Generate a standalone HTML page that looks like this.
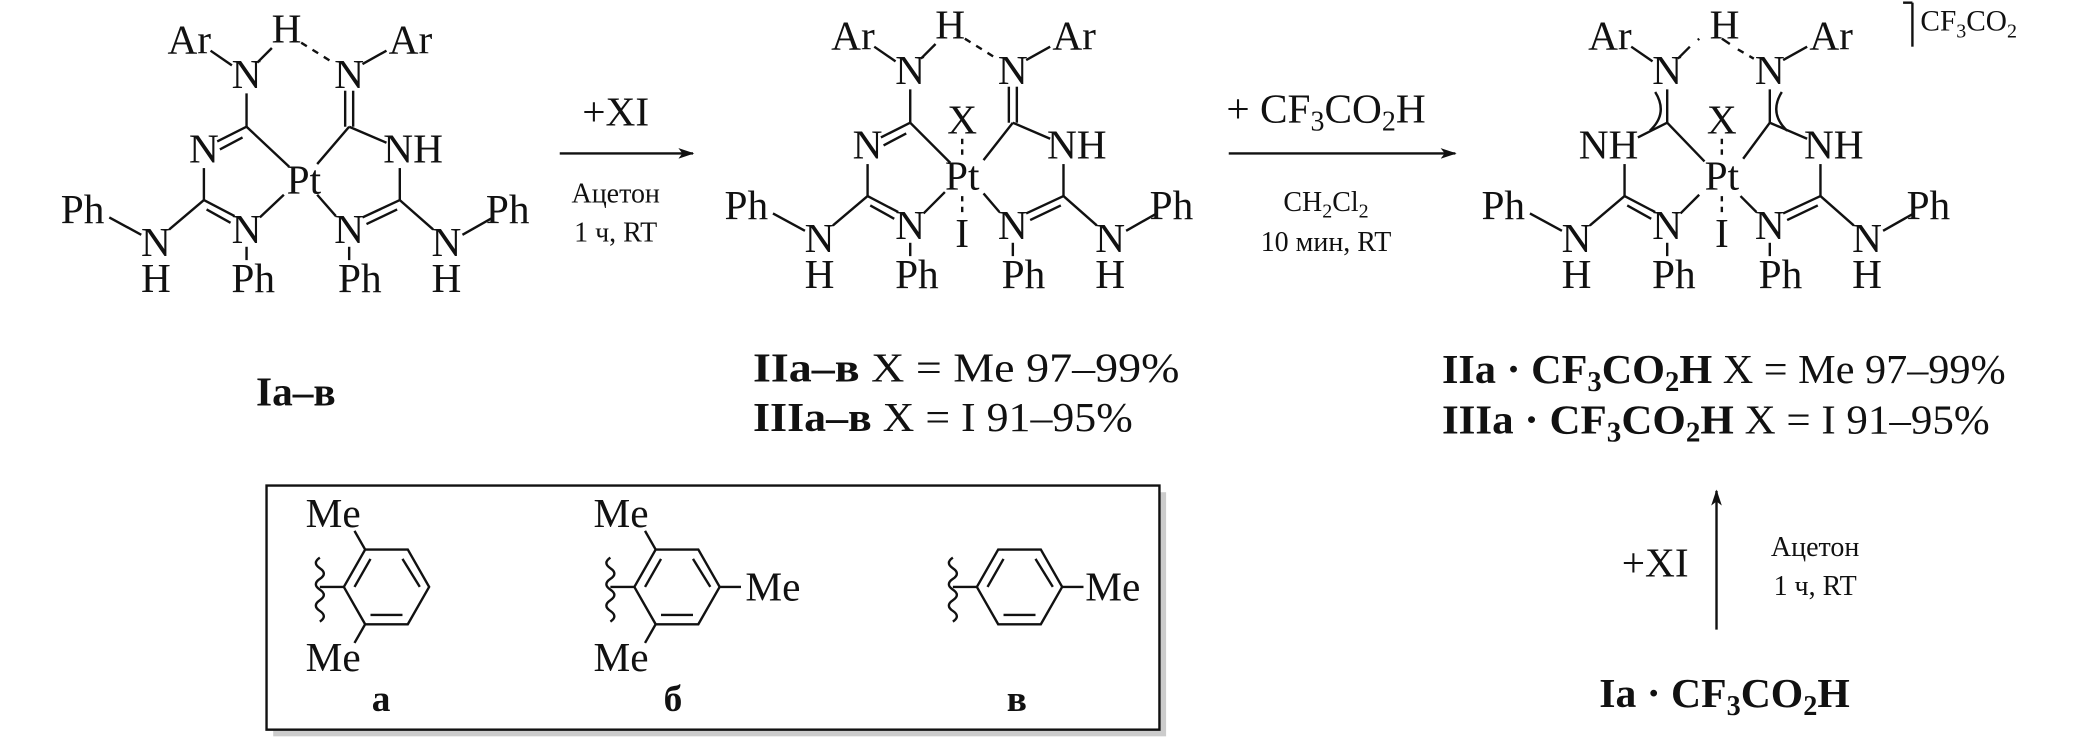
<!DOCTYPE html>
<html><head><meta charset="utf-8"><style>
html,body{margin:0;padding:0;background:#fff;}
svg{display:block;}
text{font-family:"Liberation Serif",serif;fill:#111;}
</style></head><body>
<svg width="2079" height="751" viewBox="0 0 1560 563" preserveAspectRatio="none" xmlns="http://www.w3.org/2000/svg">
<defs>
<marker id="ah" viewBox="0 0 12 8" refX="11" refY="4" markerWidth="12" markerHeight="8" markerUnits="userSpaceOnUse" orient="auto"><path d="M0,0 L12,4 L0,8 L3,4 Z" fill="#111"/></marker>
</defs>
<g stroke="#111" stroke-width="1.8" fill="none">
<!-- Structure 1 -->
<g id="s1">
<line x1="158" y1="38" x2="174" y2="49"/>
<line x1="193" y1="47" x2="204" y2="36"/>
<line x1="226" y1="32" x2="250" y2="47" stroke-dasharray="5,5"/>
<line x1="272" y1="48" x2="290" y2="38"/>
<line x1="185" y1="70" x2="185" y2="95"/>
<line x1="185" y1="95" x2="163" y2="106"/><line x1="182" y1="103" x2="165" y2="112"/>
<line x1="185" y1="95" x2="217" y2="125"/>
<line x1="153" y1="126" x2="153" y2="150"/>
<line x1="153" y1="150" x2="176" y2="162"/><line x1="155" y1="157" x2="173" y2="167"/>
<line x1="153" y1="150" x2="127" y2="172"/>
<line x1="82" y1="163" x2="106" y2="176"/>
<line x1="195" y1="163" x2="213" y2="146"/>
<line x1="185" y1="185" x2="185" y2="195"/>
</g>
<g id="s1r">
<line x1="259" y1="68" x2="259" y2="95"/><line x1="265" y1="68" x2="265" y2="95"/>
<line x1="262" y1="95" x2="238" y2="123"/>
<line x1="262" y1="95" x2="290" y2="107"/>
<line x1="300" y1="126" x2="300" y2="150"/>
<line x1="300" y1="150" x2="272" y2="163"/><line x1="298" y1="157" x2="275" y2="168"/>
<line x1="300" y1="150" x2="325" y2="172"/>
<line x1="347" y1="176" x2="370" y2="163"/>
<line x1="252" y1="162" x2="238" y2="146"/>
<line x1="262" y1="185" x2="262" y2="195"/>
</g>
<!-- Structure 2 -->
<g transform="translate(498,-3)">
<line x1="158" y1="38" x2="174" y2="49"/>
<line x1="193" y1="47" x2="204" y2="36"/>
<line x1="226" y1="32" x2="250" y2="47" stroke-dasharray="5,5"/>
<line x1="272" y1="48" x2="290" y2="38"/>
<line x1="185" y1="70" x2="185" y2="95"/>
<line x1="185" y1="95" x2="163" y2="106"/><line x1="182" y1="103" x2="165" y2="112"/>
<line x1="185" y1="95" x2="215" y2="125"/>
<line x1="153" y1="126" x2="153" y2="150"/>
<line x1="153" y1="150" x2="176" y2="162"/><line x1="155" y1="157" x2="173" y2="167"/>
<line x1="153" y1="150" x2="127" y2="172"/>
<line x1="82" y1="163" x2="106" y2="176"/>
<line x1="195" y1="163" x2="211" y2="147"/>
<line x1="185" y1="185" x2="185" y2="195"/>
<line x1="259" y1="68" x2="259" y2="95"/><line x1="265" y1="68" x2="265" y2="95"/>
<line x1="262" y1="95" x2="240" y2="123"/>
<line x1="262" y1="95" x2="290" y2="107"/>
<line x1="300" y1="126" x2="300" y2="150"/>
<line x1="300" y1="150" x2="272" y2="163"/><line x1="298" y1="157" x2="275" y2="168"/>
<line x1="300" y1="150" x2="325" y2="172"/>
<line x1="347" y1="176" x2="370" y2="163"/>
<line x1="252" y1="162" x2="240" y2="148"/>
<line x1="262" y1="185" x2="262" y2="195"/>
<line x1="224" y1="107" x2="224" y2="120" stroke-dasharray="4,4"/>
<line x1="224" y1="150" x2="224" y2="163" stroke-dasharray="4,4"/>
</g>
<!-- Structure 3 -->
<g transform="translate(1066,-3)">
<line x1="158" y1="38" x2="174" y2="49"/>
<line x1="193" y1="47" x2="202" y2="38"/>
<line x1="208" y1="33" x2="209" y2="32"/>
<line x1="226" y1="32" x2="232" y2="36"/>
<line x1="238" y1="40" x2="250" y2="47" stroke-dasharray="5,5"/>
<line x1="272" y1="48" x2="290" y2="38"/>
<line x1="185" y1="70" x2="185" y2="95"/>
<path d="M176,72 Q186,88 172,101"/>
<line x1="185" y1="95" x2="163" y2="106"/>
<line x1="185" y1="95" x2="213" y2="124"/>
<line x1="153" y1="126" x2="153" y2="150"/>
<line x1="153" y1="150" x2="176" y2="162"/><line x1="155" y1="157" x2="173" y2="167"/>
<line x1="153" y1="150" x2="127" y2="172"/>
<line x1="82" y1="163" x2="106" y2="176"/>
<line x1="195" y1="163" x2="209" y2="149"/>
<line x1="185" y1="185" x2="185" y2="195"/>
<line x1="262" y1="70" x2="262" y2="95"/>
<path d="M271,72 Q261,88 275,101"/>
<line x1="262" y1="95" x2="242" y2="122"/>
<line x1="262" y1="95" x2="290" y2="107"/>
<line x1="300" y1="126" x2="300" y2="150"/>
<line x1="300" y1="150" x2="272" y2="163"/><line x1="298" y1="157" x2="275" y2="168"/>
<line x1="300" y1="150" x2="325" y2="172"/>
<line x1="347" y1="176" x2="370" y2="163"/>
<line x1="252" y1="162" x2="240" y2="150"/>
<line x1="262" y1="185" x2="262" y2="195"/>
<line x1="226" y1="107" x2="226" y2="120" stroke-dasharray="4,4"/>
<line x1="226" y1="150" x2="226" y2="163" stroke-dasharray="4,4"/>
<line x1="369" y1="5" x2="369" y2="38"/><line x1="362" y1="5" x2="369" y2="5"/>
</g>
<!-- arrows -->
<line x1="420" y1="115" x2="520" y2="115" marker-end="url(#ah)"/>
<line x1="922" y1="115" x2="1092" y2="115" marker-end="url(#ah)"/>
<line x1="1288" y1="472" x2="1288" y2="368" marker-end="url(#ah)"/>
<!-- box -->
<rect x="205" y="369" width="670" height="183" fill="#ccc" stroke="none"/>
<rect x="200" y="364" width="670" height="183" fill="#fff"/>
<!-- ring a -->
<g id="ra">
<polygon points="258,440 274,412 306,412 322,440 306,468 274,468"/>
<line x1="266" y1="440" x2="278" y2="419"/><line x1="310" y1="419" x2="317" y2="435" stroke="none"/>
<line x1="302" y1="419" x2="315" y2="440"/>
<line x1="278" y1="461" x2="302" y2="461"/>
<line x1="274" y1="412" x2="266" y2="398"/>
<line x1="274" y1="468" x2="266" y2="482"/>
<line x1="240" y1="440" x2="258" y2="440"/>
<path d="M240,418 q-6,4 0,8 q6,4 0,8 q-6,4 0,8 q6,4 0,8 q-6,4 0,8 q6,4 0,8"/>
</g>
<g transform="translate(218,0)">
<polygon points="258,440 274,412 306,412 322,440 306,468 274,468"/>
<line x1="266" y1="440" x2="278" y2="419"/>
<line x1="302" y1="419" x2="315" y2="440"/>
<line x1="278" y1="461" x2="302" y2="461"/>
<line x1="274" y1="412" x2="266" y2="398"/>
<line x1="274" y1="468" x2="266" y2="482"/>
<line x1="240" y1="440" x2="258" y2="440"/>
<line x1="322" y1="440" x2="338" y2="440"/>
<path d="M240,418 q-6,4 0,8 q6,4 0,8 q-6,4 0,8 q6,4 0,8 q-6,4 0,8 q6,4 0,8"/>
</g>
<g transform="translate(475,0)">
<polygon points="258,440 274,412 306,412 322,440 306,468 274,468"/>
<line x1="266" y1="440" x2="278" y2="419"/>
<line x1="302" y1="419" x2="315" y2="440"/>
<line x1="278" y1="461" x2="302" y2="461"/>
<line x1="240" y1="440" x2="258" y2="440"/>
<line x1="322" y1="440" x2="338" y2="440"/>
<path d="M240,418 q-6,4 0,8 q6,4 0,8 q-6,4 0,8 q6,4 0,8 q-6,4 0,8 q6,4 0,8"/>
</g>
</g>
<g font-size="31" text-anchor="middle">
<!-- s1 labels -->
<text x="142" y="40">Ar</text><text x="215" y="32">H</text><text x="308" y="40">Ar</text>
<text x="185" y="66">N</text><text x="262" y="66">N</text>
<text x="153" y="122">N</text><text x="310" y="122">NH</text>
<text x="228" y="145">Pt</text>
<text x="62" y="167">Ph</text><text x="117" y="192">N</text><text x="117" y="219">H</text>
<text x="185" y="182">N</text><text x="190" y="219">Ph</text>
<text x="262" y="182">N</text><text x="270" y="219">Ph</text>
<text x="335" y="192">N</text><text x="335" y="219">H</text><text x="381" y="167">Ph</text>
<!-- s2 -->
<g transform="translate(498,-3)">
<text x="142" y="40">Ar</text><text x="215" y="32">H</text><text x="308" y="40">Ar</text>
<text x="185" y="66">N</text><text x="262" y="66">N</text>
<text x="153" y="122">N</text><text x="310" y="122">NH</text>
<text x="224" y="103">X</text>
<text x="224" y="145">Pt</text>
<text x="224" y="188">I</text>
<text x="62" y="167">Ph</text><text x="117" y="192">N</text><text x="117" y="219">H</text>
<text x="185" y="182">N</text><text x="190" y="219">Ph</text>
<text x="262" y="182">N</text><text x="270" y="219">Ph</text>
<text x="335" y="192">N</text><text x="335" y="219">H</text><text x="381" y="167">Ph</text>
</g>
<!-- s3 -->
<g transform="translate(1066,-3)">
<text x="142" y="40">Ar</text><text x="228" y="32">H</text><text x="308" y="40">Ar</text>
<text x="185" y="66">N</text><text x="262" y="66">N</text>
<text x="141" y="122">NH</text><text x="310" y="122">NH</text>
<text x="226" y="103">X</text>
<text x="226" y="145">Pt</text>
<text x="226" y="188">I</text>
<text x="62" y="167">Ph</text><text x="117" y="192">N</text><text x="117" y="219">H</text>
<text x="185" y="182">N</text><text x="190" y="219">Ph</text>
<text x="262" y="182">N</text><text x="270" y="219">Ph</text>
<text x="335" y="192">N</text><text x="335" y="219">H</text><text x="381" y="167">Ph</text>
<text x="375" y="26" font-size="22" text-anchor="start">CF<tspan font-size="15" dy="5">3</tspan><tspan dy="-5">CO</tspan><tspan font-size="15" dy="5">2</tspan></text>
</g>
<!-- conditions -->
<text x="462" y="94">+XI</text>
<text x="462" y="152" font-size="21">Ацетон</text>
<text x="462" y="181" font-size="21">1 ч, RT</text>
<text x="995" y="92">+ CF<tspan font-size="21" dy="6">3</tspan><tspan dy="-6">CO</tspan><tspan font-size="21" dy="6">2</tspan><tspan dy="-6">H</tspan></text>
<text x="995" y="158" font-size="21">CH<tspan font-size="15" dy="5">2</tspan><tspan dy="-5">Cl</tspan><tspan font-size="15" dy="5">2</tspan></text>
<text x="995" y="188" font-size="21">10 мин, RT</text>
<text x="1242" y="432">+XI</text>
<text x="1362" y="417" font-size="21">Ацетон</text>
<text x="1362" y="446" font-size="21">1 ч, RT</text>
<!-- box labels -->
<text x="250" y="395">Me</text><text x="250" y="503">Me</text>
<text x="466" y="395">Me</text><text x="466" y="503">Me</text>
<text x="580" y="450">Me</text><text x="835" y="450">Me</text>
<text x="286" y="533" font-weight="bold" font-size="28">а</text>
<text x="505" y="533" font-weight="bold" font-size="28">б</text>
<text x="763" y="533" font-weight="bold" font-size="28">в</text>
<!-- compound labels -->
<text x="222" y="304" font-weight="bold">Ia–в</text>
</g>
<g font-size="31" text-anchor="start">
<text x="565" y="286" textLength="320" lengthAdjust="spacingAndGlyphs"><tspan font-weight="bold">IIa–в</tspan>   X = Me 97–99%</text>
<text x="565" y="323" textLength="285" lengthAdjust="spacingAndGlyphs"><tspan font-weight="bold">IIIa–в</tspan>  X = I 91–95%</text>
<text x="1082" y="287" textLength="423" lengthAdjust="spacingAndGlyphs"><tspan font-weight="bold">IIa · CF<tspan font-size="21" dy="6">3</tspan><tspan dy="-6">CO</tspan><tspan font-size="21" dy="6">2</tspan><tspan dy="-6">H</tspan></tspan> X = Me 97–99%</text>
<text x="1082" y="325" textLength="411" lengthAdjust="spacingAndGlyphs"><tspan font-weight="bold">IIIa ·  CF<tspan font-size="21" dy="6">3</tspan><tspan dy="-6">CO</tspan><tspan font-size="21" dy="6">2</tspan><tspan dy="-6">H</tspan></tspan> X = I 91–95%</text>
<text x="1200" y="530" font-weight="bold" textLength="188" lengthAdjust="spacingAndGlyphs">Ia · CF<tspan font-size="21" dy="6">3</tspan><tspan dy="-6">CO</tspan><tspan font-size="21" dy="6">2</tspan><tspan dy="-6">H</tspan></text>
</g>
</svg>
</body></html>
